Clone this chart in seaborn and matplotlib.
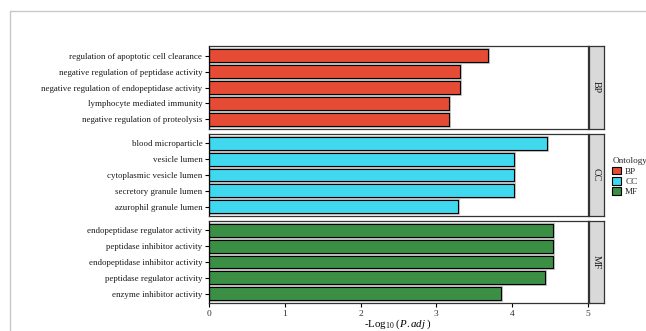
import matplotlib
matplotlib.use("Agg")
import matplotlib.pyplot as plt
import matplotlib.patheffects as pe
from matplotlib.lines import Line2D
from matplotlib.patches import Patch
import seaborn as sns
import pandas as pd

# GO enrichment results, top to bottom within each ontology
bp_terms = [
    "regulation of apoptotic cell clearance",
    "negative regulation of peptidase activity",
    "negative regulation of endopeptidase activity",
    "lymphocyte mediated immunity",
    "negative regulation of proteolysis",
]
bp_values = [3.68, 3.31, 3.31, 3.16, 3.16]

cc_terms = [
    "blood microparticle",
    "vesicle lumen",
    "cytoplasmic vesicle lumen",
    "secretory granule lumen",
    "azurophil granule lumen",
]
cc_values = [4.46, 4.02, 4.02, 4.02, 3.28]

mf_terms = [
    "endopeptidase regulator activity",
    "peptidase inhibitor activity",
    "endopeptidase inhibitor activity",
    "peptidase regulator activity",
    "enzyme inhibitor activity",
]
mf_values = [4.54, 4.54, 4.54, 4.44, 3.85]

ontologies = ["BP", "CC", "MF"]
colors = {"BP": "#E64B35", "CC": "#3FD8EE", "MF": "#3A8F44"}
x_ticks = [0, 1, 2, 3, 4, 5]

sns.set_theme(style="white")
plt.rcParams["font.family"] = ["Liberation Serif", "DejaVu Serif"]
plt.rcParams["mathtext.fontset"] = "custom"
plt.rcParams["mathtext.rm"] = "Liberation Serif"
plt.rcParams["mathtext.it"] = "Liberation Serif:italic"

W, H = 646, 331
fig = plt.figure(figsize=(W / 100, H / 100), dpi=100)

# light frame around the figure
fig.add_artist(Line2D([9.5 / W, 9.5 / W], [0, 1 - 11 / H], color="#C8C8C8", lw=1.0))
fig.add_artist(Line2D([9.5 / W, 1], [1 - 11 / H, 1 - 11 / H], color="#C8C8C8", lw=1.0))

frames = {
    "BP": pd.DataFrame({"term": bp_terms, "value": bp_values}),
    "CC": pd.DataFrame({"term": cc_terms, "value": cc_values}),
    "MF": pd.DataFrame({"term": mf_terms, "value": mf_values}),
}

left_px, right_px = 209.3, 587.8
panel_px = {"BP": (46, 129), "CC": (134, 216), "MF": (221, 303)}
strip_x0, strip_x1 = 589.0, 604.0

halo = [pe.Stroke(linewidth=2.2, foreground="#C4C4C4"), pe.Normal()]

for ont in ontologies:
    top, bot = panel_px[ont]
    ax = fig.add_axes([left_px / W, 1 - bot / H, (right_px - left_px) / W, (bot - top) / H])
    df = frames[ont]
    sns.barplot(data=df, x="value", y="term", order=list(df["term"]), color=colors[ont],
                saturation=1, edgecolor="black", linewidth=0.8, width=0.8, ax=ax, zorder=2)
    for patch in ax.patches:
        patch.set_path_effects(halo)
    ax.set_ylim(len(df) - 0.4, -0.6)
    ax.set_xlim(0, 5)
    ax.set_xticks(x_ticks)
    ax.set_ylabel("")
    ax.set_xlabel("")
    for s in ax.spines.values():
        s.set_visible(True)
        s.set_color("#333333")
        s.set_linewidth(0.9)
    ax.spines["left"].set_color("black")
    ax.tick_params(axis="y", left=True, length=3, width=0.8, color="black",
                   labelsize=6.4, labelcolor="#1A1A1A", pad=2)
    ax.tick_params(axis="x", bottom=True, length=3, width=0.8, color="black",
                   labelsize=6.8, labelcolor="#333333", pad=2)
    if ont != "MF":
        ax.tick_params(axis="x", bottom=False, labelbottom=False)
    ax.grid(False)

    # facet strip on the right
    sax = fig.add_axes([strip_x0 / W, 1 - bot / H, (strip_x1 - strip_x0) / W, (bot - top) / H])
    sax.set_xticks([])
    sax.set_yticks([])
    sax.set_facecolor("#D9D9D9")
    for s in sax.spines.values():
        s.set_color("#333333")
        s.set_linewidth(0.9)
    sax.text(0.5, 0.5, ont, rotation=-90, ha="center", va="center",
             fontsize=7.2, color="#1A1A1A", transform=sax.transAxes)

# x-axis title
fig.text(398.5 / W, 1 - 324 / H, r"-Log$_{10}$ ($\mathit{P.adj}$ )", ha="center", va="center",
         fontsize=7.8, color="black")

# legend
handles = [Patch(facecolor=colors[o], edgecolor="black", linewidth=0.8, label=o) for o in ontologies]
leg = fig.legend(handles=handles, title="Ontology", loc="upper left",
                 bbox_to_anchor=(606 / W, 1 - 151 / H), frameon=False,
                 fontsize=6.6, title_fontsize=6.6, handlelength=0.9, handleheight=0.9,
                 handletextpad=0.5, labelspacing=0.15, borderpad=0.2)
leg._legend_box.align = "left"

fig.savefig("out.png", dpi=100)
